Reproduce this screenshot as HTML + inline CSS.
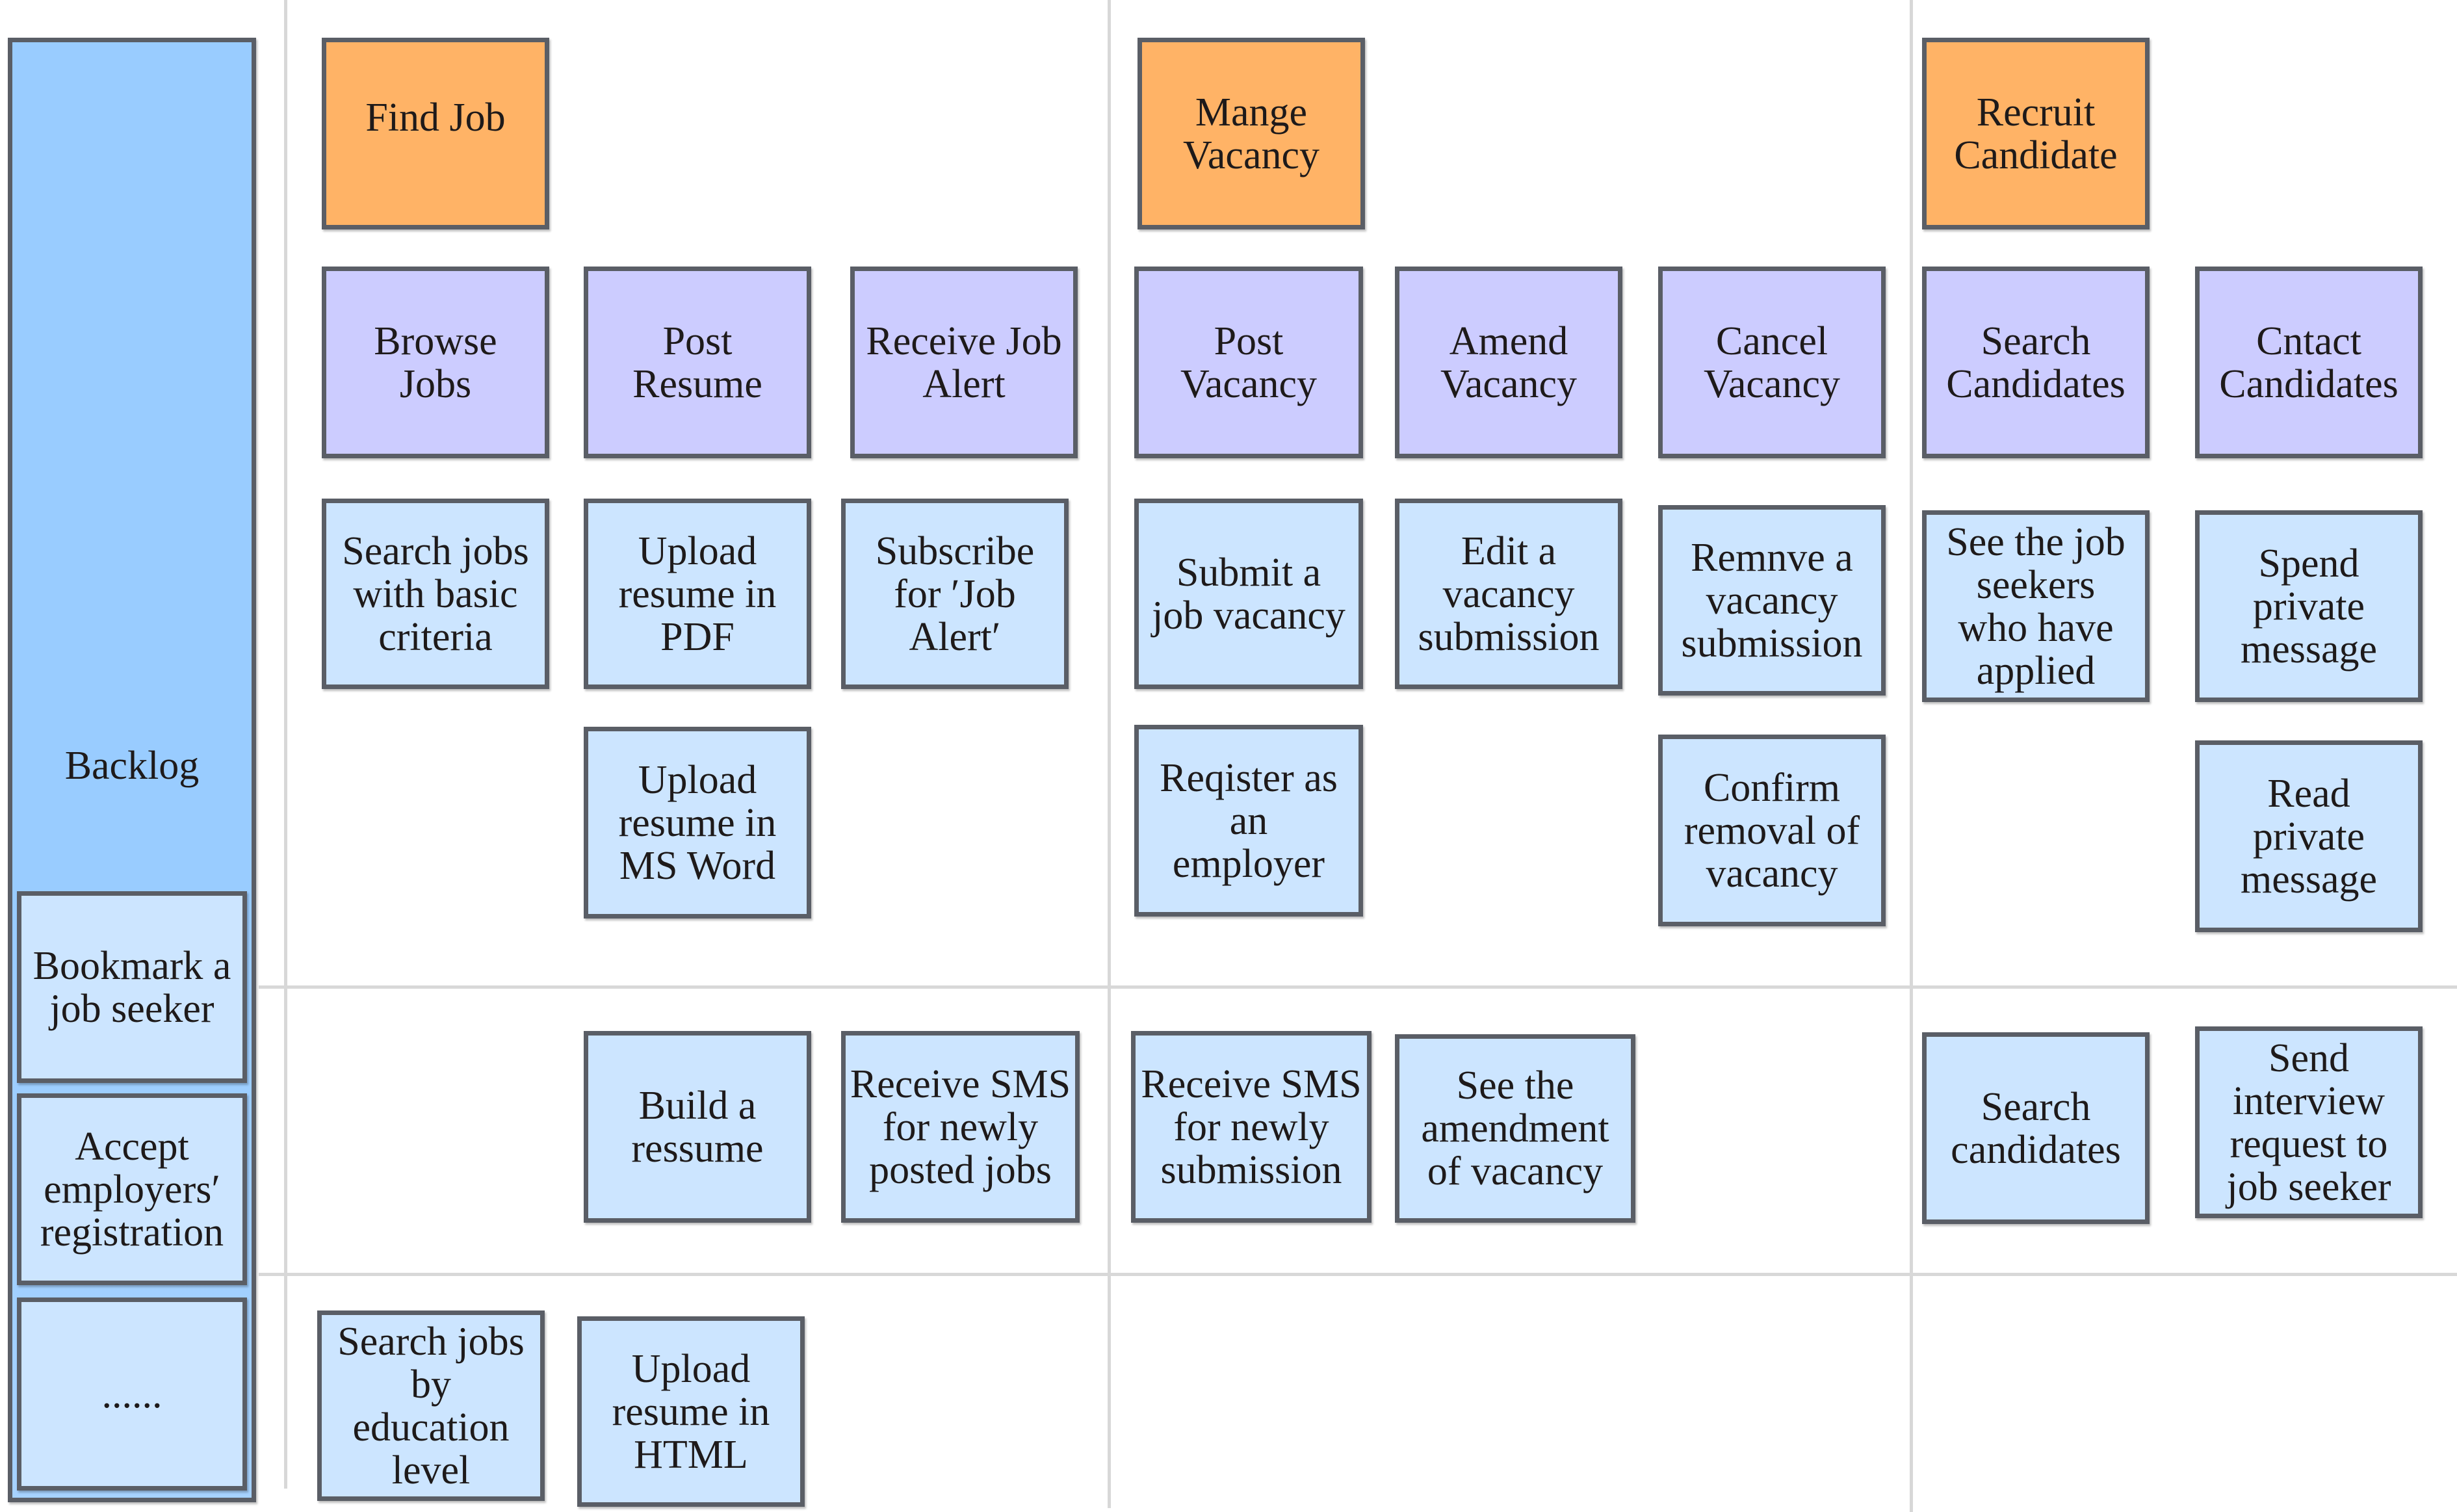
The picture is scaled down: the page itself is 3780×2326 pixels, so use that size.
<!DOCTYPE html>
<html><head><meta charset="utf-8"><style>
html,body{margin:0;padding:0;background:#fff;}
body{width:3780px;height:2326px;position:relative;overflow:hidden;font-family:"Liberation Serif","Times New Roman","Noto Serif CJK SC","DejaVu Serif",serif;}
.b{position:absolute;box-sizing:border-box;border:7px solid #5a5e66;display:flex;align-items:center;justify-content:center;text-align:center;color:#1e1a1a;font-size:62px;line-height:66px;white-space:nowrap;box-shadow:2px 3px 3px rgba(0,0,0,0.25);font-family:"Liberation Serif","Times New Roman","Noto Serif CJK SC","DejaVu Serif",serif;}
.o{background:#ffb366;}
.p{background:#ccccff;}
.l{background:#cce5ff;}
.vl{position:absolute;width:5px;background:#d8d8d8;}
.hl{position:absolute;height:5px;background:#d8d8d8;}
</style></head><body>
<div class="vl" style="left:437px;top:0;height:2290px"></div>
<div class="vl" style="left:1704px;top:0;height:2320px"></div>
<div class="vl" style="left:2938px;top:0;height:2326px"></div>
<div class="hl" style="left:398px;top:1516px;width:3382px"></div>
<div class="hl" style="left:398px;top:1958px;width:3382px"></div>

<div class="b" style="left:12px;top:58px;width:382px;height:2253px;background:linear-gradient(#99ccff,#99ccff 60%,#a6d2ff);align-items:flex-start;"><div style="margin-top:1080px">Backlog</div></div>
<div class="b l" style="left:26px;top:1371px;width:354px;height:295px">Bookmark a<br>job seeker</div>
<div class="b l" style="left:26px;top:1682px;width:354px;height:295px">Accept<br>employers′<br>registration</div>
<div class="b l" style="left:26px;top:1996px;width:354px;height:297px">......</div>

<div class="b o" style="left:495px;top:58px;width:350px;height:295px"><div style="margin-bottom:50px">Find Job</div></div>
<div class="b o" style="left:1750px;top:58px;width:350px;height:295px">Mange<br>Vacancy</div>
<div class="b o" style="left:2957px;top:58px;width:350px;height:295px">Recruit<br>Candidate</div>

<div class="b p" style="left:495px;top:410px;width:350px;height:295px">Browse<br>Jobs</div>
<div class="b p" style="left:898px;top:410px;width:350px;height:295px">Post<br>Resume</div>
<div class="b p" style="left:1308px;top:410px;width:350px;height:295px">Receive Job<br>Alert</div>
<div class="b p" style="left:1745px;top:410px;width:352px;height:295px">Post<br>Vacancy</div>
<div class="b p" style="left:2146px;top:410px;width:350px;height:295px">Amend<br>Vacancy</div>
<div class="b p" style="left:2551px;top:410px;width:350px;height:295px">Cancel<br>Vacancy</div>
<div class="b p" style="left:2957px;top:410px;width:350px;height:295px">Search<br>Candidates</div>
<div class="b p" style="left:3377px;top:410px;width:350px;height:295px">Cntact<br>Candidates</div>

<div class="b l" style="left:495px;top:767px;width:350px;height:293px">Search jobs<br>with basic<br>criteria</div>
<div class="b l" style="left:898px;top:767px;width:350px;height:293px">Upload<br>resume in<br>PDF</div>
<div class="b l" style="left:1294px;top:767px;width:350px;height:293px">Subscribe<br>for ′Job<br>Alert′</div>
<div class="b l" style="left:1745px;top:767px;width:352px;height:293px">Submit a<br>job vacancy</div>
<div class="b l" style="left:2146px;top:767px;width:350px;height:293px">Edit a<br>vacancy<br>submission</div>
<div class="b l" style="left:2551px;top:777px;width:350px;height:293px">Remnve a<br>vacancy<br>submission</div>
<div class="b l" style="left:2957px;top:785px;width:350px;height:295px">See the job<br>seekers<br>who have<br>applied</div>
<div class="b l" style="left:3377px;top:785px;width:350px;height:295px">Spend<br>private<br>message</div>

<div class="b l" style="left:898px;top:1118px;width:350px;height:295px">Upload<br>resume in<br>MS Word</div>
<div class="b l" style="left:1745px;top:1115px;width:352px;height:295px">Reqister as<br>an<br>employer</div>
<div class="b l" style="left:2551px;top:1130px;width:350px;height:295px">Confirm<br>removal of<br>vacancy</div>
<div class="b l" style="left:3377px;top:1139px;width:350px;height:295px">Read<br>private<br>message</div>

<div class="b l" style="left:898px;top:1586px;width:350px;height:295px">Build a<br>ressume</div>
<div class="b l" style="left:1294px;top:1586px;width:367px;height:295px">Receive SMS<br>for newly<br>posted jobs</div>
<div class="b l" style="left:1740px;top:1586px;width:370px;height:295px">Receive SMS<br>for newly<br>submission</div>
<div class="b l" style="left:2146px;top:1591px;width:370px;height:290px">See the<br>amendment<br>of vacancy</div>
<div class="b l" style="left:2957px;top:1588px;width:350px;height:295px">Search<br>candidates</div>
<div class="b l" style="left:3377px;top:1579px;width:350px;height:295px">Send<br>interview<br>request to<br>job seeker</div>

<div class="b l" style="left:488px;top:2016px;width:350px;height:293px">Search jobs<br>by<br>education<br>level</div>
<div class="b l" style="left:888px;top:2025px;width:350px;height:293px">Upload<br>resume in<br>HTML</div>
</body></html>
